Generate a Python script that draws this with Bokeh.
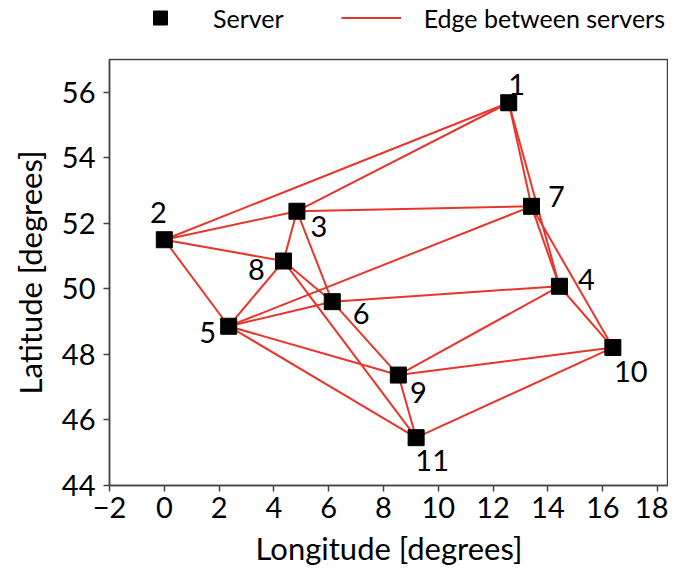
from bokeh.plotting import figure
from bokeh.models import ColumnDataSource, Range1d, FixedTicker, Legend, LegendItem
from bokeh.layouts import column
from bokeh.core.properties import value
from bokeh.embed import file_html
from bokeh.resources import INLINE

# Servers (longitude, latitude)
node_ids = ["1", "2", "3", "4", "5", "6", "7", "8", "9", "10", "11"]
lon = [12.57, 0.00, 4.84, 14.42, 2.35, 6.13, 13.40, 4.35, 8.54, 16.37, 9.19]
lat = [55.68, 51.50, 52.37, 50.08, 48.86, 49.61, 52.52, 50.85, 47.37, 48.21, 45.46]

# Edges between servers (by server label)
edge_from = ["1", "1", "1", "1", "2", "2", "2", "3", "3", "3", "7", "7", "7",
             "4", "4", "4", "5", "5", "5", "5", "8", "8", "6", "9", "9", "11"]
edge_to = ["2", "3", "7", "4", "3", "8", "5", "7", "8", "6", "5", "4", "10",
           "6", "9", "10", "8", "6", "9", "11", "6", "11", "9", "10", "11", "10"]

x_ticks = [-2, 0, 2, 4, 6, 8, 10, 12, 14, 16, 18]
y_ticks = [44, 46, 48, 50, 52, 54, 56]

legend_labels = ["Server", "Edge between servers"]

# label placement (screen px offsets from the marker)
lab_dx = [8, -6, 22, 27, -21, 29, 25, -27, 20, 18, 16]
lab_dy = [-18, -27, 15, -7, 6, 12, -10, 8, 17, 24, 23]

FONT = "Lato"
RED = "#e8352b"
AXC = "#444444"

idx = {n: i for i, n in enumerate(node_ids)}
xs = [[lon[idx[a]], lon[idx[b]]] for a, b in zip(edge_from, edge_to)]
ys = [[lat[idx[a]], lat[idx[b]]] for a, b in zip(edge_from, edge_to)]

nsrc = ColumnDataSource(dict(x=lon, y=lat, t=node_ids, dx=lab_dx, dy=lab_dy))
esrc = ColumnDataSource(dict(xs=xs, ys=ys))

# ---- legend strip above the plot (proxy glyphs share the data but lie outside its view) ----
lf = figure(width=668, height=36, output_backend="svg", toolbar_location=None,
            x_range=Range1d(-2, 18.4), y_range=Range1d(0, 1),
            x_axis_type=None, y_axis_type=None,
            min_border_left=0, min_border_right=0, min_border_top=0, min_border_bottom=0)
lf.outline_line_color = None
lf.xgrid.visible = False
lf.ygrid.visible = False
lf.background_fill_color = "white"
lf.border_fill_color = "white"
lg_nodes = lf.scatter("x", "y", source=nsrc, marker="square", size=16, color="black")
lg_edges = lf.multi_line("xs", "ys", source=esrc, line_color=RED, line_width=2)
legend = Legend(items=[LegendItem(label=legend_labels[0], renderers=[lg_nodes]),
                       LegendItem(label=legend_labels[1], renderers=[lg_edges])],
                location=(21, 1), orientation="horizontal",
                glyph_width=60, glyph_height=35, label_standoff=23, spacing=57,
                padding=0, margin=0, border_line_alpha=0, background_fill_alpha=0,
                label_text_font=FONT, label_text_font_size="25px", label_text_color="black")
lf.add_layout(legend, "center")

# ---- main plot ----
p = figure(width=668, height=533, output_backend="svg", toolbar_location=None,
           x_range=Range1d(-2, 18.4), y_range=Range1d(44, 57),
           min_border_left=109, min_border_right=0, min_border_top=23, min_border_bottom=81)
p.background_fill_color = "white"
p.border_fill_color = "white"
p.outline_line_color = AXC
p.outline_line_width = 1.5
p.xgrid.visible = False
p.ygrid.visible = False

p.multi_line("xs", "ys", source=esrc, line_color=RED, line_width=2)
p.scatter("x", "y", source=nsrc, marker="square", size=16, color="black")
p.text("x", "y", text="t", source=nsrc, x_offset="dx", y_offset="dy",
       text_align="center", text_baseline="middle", text_font=value(FONT),
       text_font_size="29px", text_color="black")

for ax in (p.xaxis[0], p.yaxis[0]):
    ax.axis_line_color = AXC
    ax.axis_line_width = 1.5
    ax.major_tick_line_color = AXC
    ax.major_tick_line_width = 1.5
    ax.major_tick_out = 6
    ax.major_tick_in = 0
    ax.minor_tick_line_color = None
    ax.major_label_text_font = FONT
    ax.major_label_text_font_size = "29px"
    ax.major_label_text_color = "black"
    ax.axis_label_text_font = FONT
    ax.axis_label_text_font_size = "31px"
    ax.axis_label_text_font_style = "normal"
    ax.axis_label_text_color = "black"

p.xaxis.ticker = FixedTicker(ticks=x_ticks)
p.yaxis.ticker = FixedTicker(ticks=y_ticks)
p.xaxis.major_label_overrides = {t: (str(t) if t >= 0 else "\u2212" + str(-t)) for t in x_ticks}
p.xaxis.axis_label = "Longitude [degrees]"
p.yaxis.axis_label = "Latitude [degrees]"
p.xaxis.major_label_standoff = 5
p.yaxis.major_label_standoff = 8
p.xaxis.axis_label_standoff = 8
p.yaxis.axis_label_standoff = 10

layout = column(lf, p, spacing=0)
open("out.html", "w").write(file_html(layout, INLINE))
